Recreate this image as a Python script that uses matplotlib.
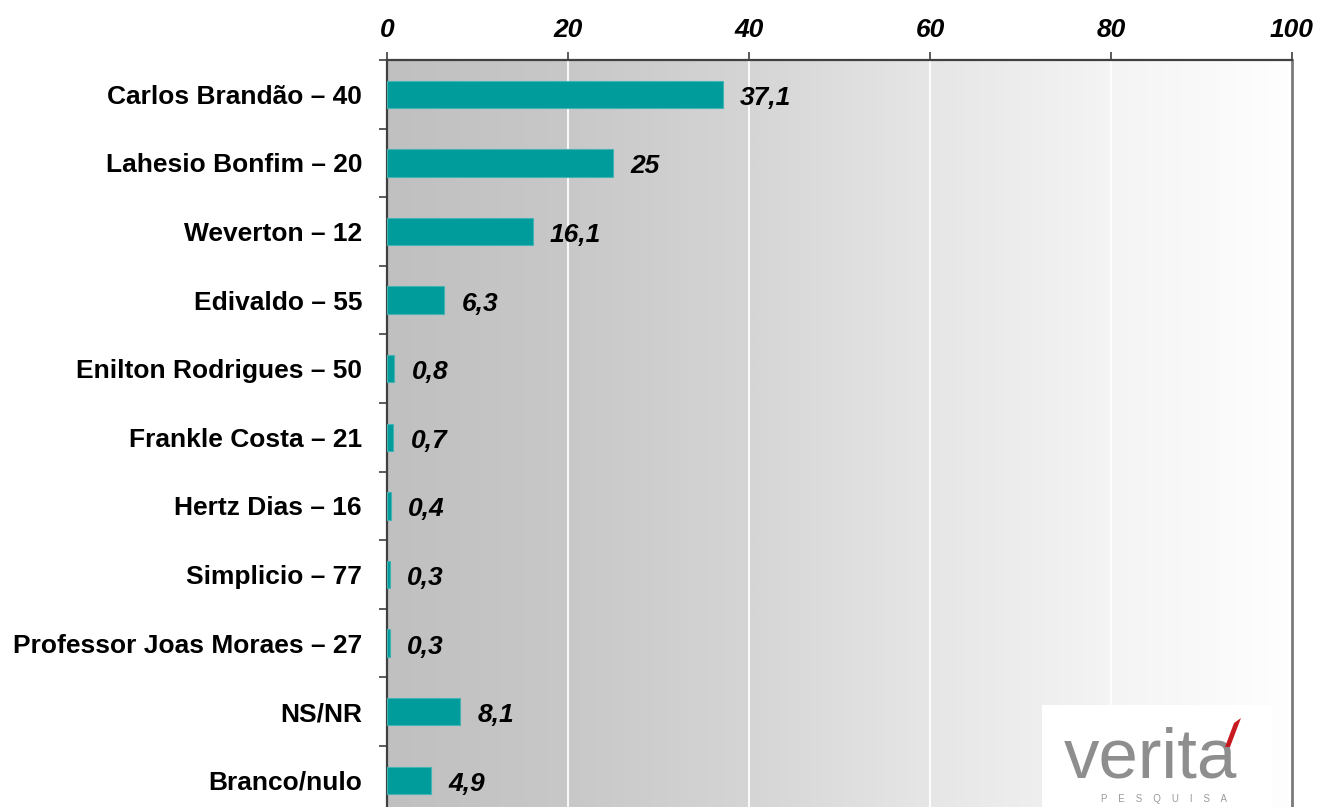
import matplotlib
matplotlib.use("Agg")
import matplotlib.pyplot as plt
import numpy as np
from matplotlib.colors import LinearSegmentedColormap
from matplotlib.patches import Rectangle, Polygon

categories = ["Carlos Brandão – 40", "Lahesio Bonfim – 20", "Weverton – 12",
              "Edivaldo – 55", "Enilton Rodrigues – 50", "Frankle Costa – 21",
              "Hertz Dias – 16", "Simplicio – 77", "Professor Joas Moraes – 27",
              "NS/NR", "Branco/nulo"]
values = [37.1, 25, 16.1, 6.3, 0.8, 0.7, 0.4, 0.3, 0.3, 8.1, 4.9]
xticks = [0, 20, 40, 60, 80, 100]

FONT = ["Liberation Sans", "DejaVu Sans"]
plt.rcParams["font.family"] = FONT

W, H = 1318, 807
fig = plt.figure(figsize=(W / 100, H / 100), dpi=100)
fig.patch.set_facecolor("white")

n = len(categories)
top_px, left_px, right_px, row_px = 60, 387, 1292, 68.6
ax = fig.add_axes([left_px / W, 1 - (top_px + n * row_px) / H,
                   (right_px - left_px) / W, n * row_px / H])

# gradient background
cmap = LinearSegmentedColormap.from_list(
    "bg", [(0.0, "#c0c0c0"), (0.2, "#c8c8c8"), (0.4, "#d5d5d5"),
           (0.6, "#e6e6e6"), (0.8, "#f4f4f4"), (1.0, "#fefefe")], N=256)
grad = np.linspace(0, 1, 256).reshape(1, -1)
ax.imshow(grad, cmap=cmap, aspect="auto", extent=[0, 100, n - 0.5, -0.5],
          zorder=0, interpolation="bilinear")

ypos = np.arange(n)
ax.barh(ypos, values, height=0.4, color="#009b9b", edgecolor="#44b3b3",
        linewidth=0.8, zorder=3)

for y, v in zip(ypos, values):
    lab = f"{v:g}".replace(".", ",")
    ax.annotate(lab, (v, y), xytext=(12.5, -2.5), textcoords="offset points",
                va="center", ha="left", fontsize=19, fontweight="bold",
                fontstyle="italic", color="black", zorder=4)

ax.set_xlim(0, 100)
ax.set_ylim(n - 0.5, -0.5)

for gx in xticks[1:-1]:
    ax.axvline(gx, color="white", linewidth=1.3, zorder=1)

ax.xaxis.tick_top()
ax.set_xticks(xticks)
ax.set_xticklabels([str(t) for t in xticks], fontsize=19, fontweight="bold",
                   fontstyle="italic")
ax.tick_params(axis="x", which="major", direction="out", length=6, width=1.2,
               color="#404040", pad=7)

ax.set_yticks(ypos)
ax.set_yticklabels(categories, fontsize=19, fontweight="bold")
ax.tick_params(axis="y", which="major", length=0, pad=18)
ax.set_yticks(np.arange(-0.5, n + 0.5, 1), minor=True)
ax.tick_params(axis="y", which="minor", direction="out", length=6, width=1.2,
               color="#404040")

for s in ["top", "left"]:
    ax.spines[s].set_color("#404040")
    ax.spines[s].set_linewidth(1.6)
ax.spines["right"].set_color("#7a7a7a")
ax.spines["right"].set_linewidth(2)
ax.spines["bottom"].set_visible(False)

# logo
fig.patches.append(Rectangle((1042 / W, 0), 230 / W, (807 - 705) / H,
                             transform=fig.transFigure, facecolor="white",
                             edgecolor="none", zorder=5))
fig.text(1064 / W, 1 - 777 / H, "verita", fontsize=51, color="#8e8e8e",
         family=FONT, ha="left", va="baseline", zorder=6)
fig.patches.append(Polygon([(1241 / W, 1 - 718 / H), (1234 / W, 1 - 723 / H),
                            (1225 / W, 1 - 747 / H), (1230 / W, 1 - 747 / H)],
                           closed=True, transform=fig.transFigure,
                           facecolor="#c8191e", edgecolor="none", zorder=7))
fig.text(1164 / W, 1 - 799 / H, "P    E    S    Q    U    I    S    A",
         fontsize=7, color="#9a9a9a", ha="center", va="center", zorder=6)

fig.savefig("out.png", dpi=100, facecolor="white")
